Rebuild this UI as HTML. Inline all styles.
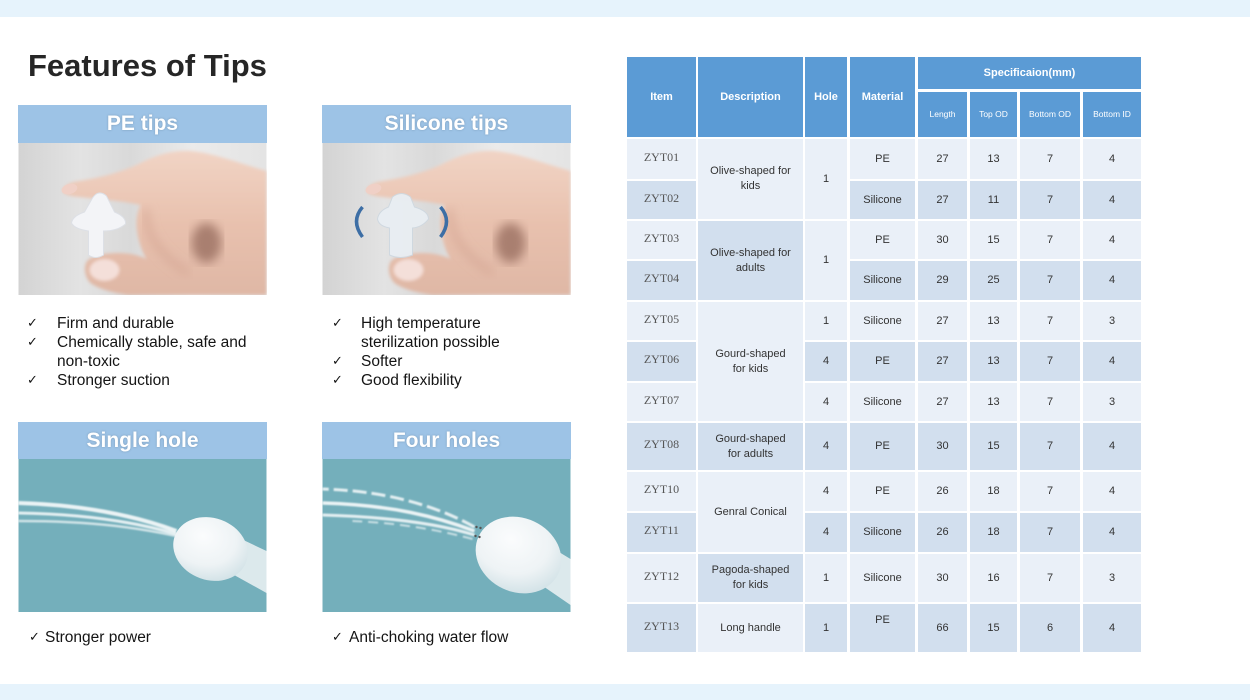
<!DOCTYPE html>
<html><head><meta charset="utf-8">
<style>
html,body{margin:0;padding:0;}
body{width:1250px;height:700px;position:relative;background:#fff;overflow:hidden;font-family:"Liberation Sans",Arial,sans-serif;}
.abs{position:absolute;}
.band{position:absolute;left:0;width:1250px;background:#e6f3fc;}
.title{position:absolute;left:28px;top:46px;font:bold 31px/40px "Liberation Sans",Arial,sans-serif;color:#262626;white-space:nowrap;}
.ph{position:absolute;height:38px;background:#9dc3e6;color:#fff;font:bold 21px/38px "Liberation Sans",Arial,sans-serif;text-align:center;text-shadow:0 0 2px rgba(60,80,100,.35);}
.bl{position:absolute;font:15.5px/19px "Liberation Sans",Arial,sans-serif;color:#141414;white-space:nowrap;}
.ck{position:absolute;font:13px/19px "DejaVu Sans",sans-serif;color:#141414;}
.c{position:absolute;display:flex;align-items:center;justify-content:center;text-align:center;font:11px/15px "Liberation Sans",Arial,sans-serif;color:#333;box-sizing:border-box;}
.h{background:#5b9bd5;color:#fff;font-weight:bold;}
.s{background:#5b9bd5;color:#fff;font-size:8.5px;}
.L{background:#eaf0f8;}
.D{background:#d2dfee;}
.it{font:12px/15px "Liberation Serif",serif;color:#555;padding-bottom:4px;}
</style></head><body>
<div class="band" style="top:0;height:17px;"></div>
<div class="band" style="top:684px;height:16px;"></div>

<div class="title">Features of Tips</div>

<!-- PE tips -->
<div class="ph" style="left:18px;top:105px;width:249px;">PE tips</div>
<svg class="abs" style="left:18px;top:143px" width="249" height="152" viewBox="0 0 248 152">
<defs>
<linearGradient id="bg1" x1="0" x2="1" y1="0" y2="0">
<stop offset="0" stop-color="#d3d3d3"/><stop offset="0.25" stop-color="#e3e3e3"/><stop offset="0.45" stop-color="#d9d9d9"/><stop offset="0.7" stop-color="#ebebeb"/><stop offset="1" stop-color="#e4e4e4"/>
</linearGradient>
<linearGradient id="sk" x1="0" x2="0" y1="0" y2="1">
<stop offset="0" stop-color="#f1d4c5"/><stop offset="0.5" stop-color="#e8c1ae"/><stop offset="1" stop-color="#dfb7a5"/>
</linearGradient>
<filter id="b2"><feGaussianBlur stdDeviation="1.5"/></filter>
<filter id="b5"><feGaussianBlur stdDeviation="5"/></filter>
</defs>
<rect width="248" height="152" fill="url(#bg1)"/>
<path d="M44,47 C46,42 52,39 60,38 C80,35 100,30 118,22 C135,13 152,7 172,8 C195,10 220,20 248,28 L248,152 L110,152 C95,150 80,146 72,140 C66,134 65,124 68,119 C72,113 85,110 100,110 C112,110 122,113 128,116 C122,106 118,92 118,80 C118,72 120,66 122,62 C105,58 80,56 60,54 C50,53 44,51 44,47 Z" fill="url(#sk)" filter="url(#b2)"/>
<ellipse cx="188" cy="100" rx="15" ry="20" fill="#a97f70" filter="url(#b5)"/>
<path d="M128,66 C126,90 140,112 170,130" stroke="#d2a290" stroke-width="4" fill="none" filter="url(#b5)"/>
<ellipse cx="51" cy="46" rx="8" ry="5" fill="#f0d0c6" transform="rotate(-15 51 46)"/>
<ellipse cx="86" cy="127" rx="15" ry="11" fill="#f4dfd9" filter="url(#b2)"/>
<path d="M74,55 Q80,46 88,53 L96,69 Q108,74 107,81 Q99,88 85,88 L85,112 Q77,117 70,112 L70,88 Q56,86 53,80 Q54,73 66,69 Z" fill="#f3f4f7" stroke="#dde0e6" stroke-width="1"/>
</svg>
<div class="ck" style="left:27px;top:314px;">✓</div>
<div class="ck" style="left:27px;top:333px;">✓</div>
<div class="ck" style="left:27px;top:371px;">✓</div>
<div class="bl" style="left:57px;top:314px;">Firm and durable</div>
<div class="bl" style="left:57px;top:333px;">Chemically stable, safe and</div>
<div class="bl" style="left:57px;top:352px;">non-toxic</div>
<div class="bl" style="left:57px;top:371px;">Stronger suction</div>

<!-- Silicone tips -->
<div class="ph" style="left:322px;top:105px;width:249px;">Silicone tips</div>
<svg class="abs" style="left:322px;top:143px" width="249" height="152" viewBox="0 0 248 152">
<rect width="248" height="152" fill="url(#bg1)"/>
<path d="M44,47 C46,42 52,39 60,38 C80,35 100,30 118,22 C135,13 152,7 172,8 C195,10 220,20 248,28 L248,152 L110,152 C95,150 80,146 72,140 C66,134 65,124 68,119 C72,113 85,110 100,110 C112,110 122,113 128,116 C122,106 118,92 118,80 C118,72 120,66 122,62 C105,58 80,56 60,54 C50,53 44,51 44,47 Z" fill="url(#sk)" filter="url(#b2)"/>
<ellipse cx="188" cy="100" rx="15" ry="20" fill="#a97f70" filter="url(#b5)"/>
<path d="M128,66 C126,90 140,112 170,130" stroke="#d2a290" stroke-width="4" fill="none" filter="url(#b5)"/>
<ellipse cx="51" cy="46" rx="8" ry="5" fill="#f0d0c6" transform="rotate(-15 51 46)"/>
<ellipse cx="86" cy="127" rx="15" ry="11" fill="#f4dfd9" filter="url(#b2)"/>
<path d="M70,54 Q79,47 88,54 L92,64 Q106,68 106,76 Q100,84 90,85 L90,112 Q78,117 67,112 L67,85 Q56,83 55,76 Q56,68 66,64 Z" fill="#e9eef3" stroke="#cfd8e0" stroke-width="1" opacity="0.95"/>
<path d="M40,64 Q28,78 40,94" stroke="#3d6ea5" stroke-width="3.5" fill="none"/>
<path d="M118,64 Q130,78 118,94" stroke="#3d6ea5" stroke-width="3.5" fill="none"/>
</svg>
<div class="ck" style="left:332px;top:314px;">✓</div>
<div class="ck" style="left:332px;top:352px;">✓</div>
<div class="ck" style="left:332px;top:371px;">✓</div>
<div class="bl" style="left:361px;top:314px;">High temperature</div>
<div class="bl" style="left:361px;top:333px;">sterilization possible</div>
<div class="bl" style="left:361px;top:352px;">Softer</div>
<div class="bl" style="left:361px;top:371px;">Good flexibility</div>

<!-- Single hole -->
<div class="ph" style="left:18px;top:422px;width:249px;height:37px;line-height:37px;">Single hole</div>
<svg class="abs" style="left:18px;top:459px" width="249" height="153" viewBox="0 0 248 153">
<defs>
<radialGradient id="bulb" cx="0.35" cy="0.35" r="0.75">
<stop offset="0" stop-color="#fbfcfd"/><stop offset="0.6" stop-color="#eef3f5"/><stop offset="1" stop-color="#cfe0e5"/>
</radialGradient>
<filter id="b1"><feGaussianBlur stdDeviation="0.9"/></filter>
</defs>
<rect width="248" height="153" fill="#74afbb"/>
<g fill="none" stroke="#fff" filter="url(#b1)">
<path d="M158,72 C120,58 70,46 0,44" stroke-width="4" opacity=".85"/>
<path d="M158,75 C120,64 70,55 0,54" stroke-width="3" opacity=".8"/>
<path d="M158,77 C125,70 80,62 0,62" stroke-width="2.5" opacity=".65"/>
</g>
<path d="M210,74 L248,92 L248,134 L212,114 Z" fill="#dce9ec"/>
<ellipse cx="192" cy="90" rx="38" ry="31" transform="rotate(20 192 90)" fill="url(#bulb)"/>
</svg>
<div class="ck" style="left:29px;top:628px;">✓</div>
<div class="bl" style="left:45px;top:628px;">Stronger power</div>

<!-- Four holes -->
<div class="ph" style="left:322px;top:422px;width:249px;height:37px;line-height:37px;">Four holes</div>
<svg class="abs" style="left:322px;top:459px" width="249" height="153" viewBox="0 0 248 153">
<rect width="248" height="153" fill="#74afbb"/>
<g fill="none" stroke="#fff" filter="url(#b1)">
<path d="M152,68 C120,50 70,32 0,30" stroke-width="3" opacity=".8" stroke-dasharray="14 5"/>
<path d="M152,72 C115,58 70,46 0,44" stroke-width="3.5" opacity=".85"/>
<path d="M152,76 C120,66 70,58 0,56" stroke-width="3" opacity=".8"/>
<path d="M150,80 C120,72 80,64 30,62" stroke-width="2" opacity=".6" stroke-dasharray="10 6"/>
</g>
<path d="M215,80 L248,100 L248,146 L216,124 Z" fill="#dce9ec"/>
<ellipse cx="196" cy="96" rx="44" ry="37" transform="rotate(25 196 96)" fill="url(#bulb)"/>
<circle cx="154" cy="68" r="1.2" fill="#555"/><circle cx="158" cy="69" r="1.2" fill="#555"/>
<circle cx="153" cy="77" r="1.2" fill="#555"/><circle cx="157" cy="78" r="1.2" fill="#555"/>
</svg>
<div class="ck" style="left:332px;top:628px;">✓</div>
<div class="bl" style="left:349px;top:628px;">Anti-choking water flow</div>

<!-- Table header -->
<div class="c h" style="left:627px;top:57px;width:69px;height:80px;">Item</div>
<div class="c h" style="left:698px;top:57px;width:105px;height:80px;">Description</div>
<div class="c h" style="left:805px;top:57px;width:42px;height:80px;">Hole</div>
<div class="c h" style="left:850px;top:57px;width:65px;height:80px;">Material</div>
<div class="c h" style="left:918px;top:57px;width:223px;height:32px;">Specificaion(mm)</div>
<div class="c s" style="left:918px;top:92px;width:49px;height:45px;">Length</div>
<div class="c s" style="left:970px;top:92px;width:47px;height:45px;">Top OD</div>
<div class="c s" style="left:1020px;top:92px;width:60px;height:45px;">Bottom OD</div>
<div class="c s" style="left:1083px;top:92px;width:58px;height:45px;">Bottom ID</div>

<!-- Row 1 -->
<div class="c L it" style="left:627px;top:139px;width:69px;height:40px;">ZYT01</div>
<div class="c L" style="left:698px;top:139px;width:105px;height:80px;">Olive-shaped for<br>kids</div>
<div class="c L" style="left:805px;top:139px;width:42px;height:80px;">1</div>
<div class="c L" style="left:850px;top:139px;width:65px;height:40px;">PE</div>
<div class="c L" style="left:918px;top:139px;width:49px;height:40px;">27</div>
<div class="c L" style="left:970px;top:139px;width:47px;height:40px;">13</div>
<div class="c L" style="left:1020px;top:139px;width:60px;height:40px;">7</div>
<div class="c L" style="left:1083px;top:139px;width:58px;height:40px;">4</div>
<!-- Row 2 -->
<div class="c D it" style="left:627px;top:181px;width:69px;height:38px;">ZYT02</div>
<div class="c D" style="left:850px;top:181px;width:65px;height:38px;">Silicone</div>
<div class="c D" style="left:918px;top:181px;width:49px;height:38px;">27</div>
<div class="c D" style="left:970px;top:181px;width:47px;height:38px;">11</div>
<div class="c D" style="left:1020px;top:181px;width:60px;height:38px;">7</div>
<div class="c D" style="left:1083px;top:181px;width:58px;height:38px;">4</div>
<!-- Row 3 -->
<div class="c L it" style="left:627px;top:221px;width:69px;height:38px;">ZYT03</div>
<div class="c D" style="left:698px;top:221px;width:105px;height:79px;">Olive-shaped for<br>adults</div>
<div class="c L" style="left:805px;top:221px;width:42px;height:79px;">1</div>
<div class="c L" style="left:850px;top:221px;width:65px;height:38px;">PE</div>
<div class="c L" style="left:918px;top:221px;width:49px;height:38px;">30</div>
<div class="c L" style="left:970px;top:221px;width:47px;height:38px;">15</div>
<div class="c L" style="left:1020px;top:221px;width:60px;height:38px;">7</div>
<div class="c L" style="left:1083px;top:221px;width:58px;height:38px;">4</div>
<!-- Row 4 -->
<div class="c D it" style="left:627px;top:261px;width:69px;height:39px;">ZYT04</div>
<div class="c D" style="left:850px;top:261px;width:65px;height:39px;">Silicone</div>
<div class="c D" style="left:918px;top:261px;width:49px;height:39px;">29</div>
<div class="c D" style="left:970px;top:261px;width:47px;height:39px;">25</div>
<div class="c D" style="left:1020px;top:261px;width:60px;height:39px;">7</div>
<div class="c D" style="left:1083px;top:261px;width:58px;height:39px;">4</div>
<!-- Row 5 -->
<div class="c L it" style="left:627px;top:302px;width:69px;height:38px;">ZYT05</div>
<div class="c L" style="left:698px;top:302px;width:105px;height:119px;">Gourd-shaped<br>for kids</div>
<div class="c L" style="left:805px;top:302px;width:42px;height:38px;">1</div>
<div class="c L" style="left:850px;top:302px;width:65px;height:38px;">Silicone</div>
<div class="c L" style="left:918px;top:302px;width:49px;height:38px;">27</div>
<div class="c L" style="left:970px;top:302px;width:47px;height:38px;">13</div>
<div class="c L" style="left:1020px;top:302px;width:60px;height:38px;">7</div>
<div class="c L" style="left:1083px;top:302px;width:58px;height:38px;">3</div>
<!-- Row 6 -->
<div class="c D it" style="left:627px;top:342px;width:69px;height:39px;">ZYT06</div>
<div class="c D" style="left:805px;top:342px;width:42px;height:39px;">4</div>
<div class="c D" style="left:850px;top:342px;width:65px;height:39px;">PE</div>
<div class="c D" style="left:918px;top:342px;width:49px;height:39px;">27</div>
<div class="c D" style="left:970px;top:342px;width:47px;height:39px;">13</div>
<div class="c D" style="left:1020px;top:342px;width:60px;height:39px;">7</div>
<div class="c D" style="left:1083px;top:342px;width:58px;height:39px;">4</div>
<!-- Row 7 -->
<div class="c L it" style="left:627px;top:383px;width:69px;height:38px;">ZYT07</div>
<div class="c L" style="left:805px;top:383px;width:42px;height:38px;">4</div>
<div class="c L" style="left:850px;top:383px;width:65px;height:38px;">Silicone</div>
<div class="c L" style="left:918px;top:383px;width:49px;height:38px;">27</div>
<div class="c L" style="left:970px;top:383px;width:47px;height:38px;">13</div>
<div class="c L" style="left:1020px;top:383px;width:60px;height:38px;">7</div>
<div class="c L" style="left:1083px;top:383px;width:58px;height:38px;">3</div>
<!-- Row 8 -->
<div class="c D it" style="left:627px;top:423px;width:69px;height:47px;">ZYT08</div>
<div class="c D" style="left:698px;top:423px;width:105px;height:47px;">Gourd-shaped<br>for adults</div>
<div class="c D" style="left:805px;top:423px;width:42px;height:47px;">4</div>
<div class="c D" style="left:850px;top:423px;width:65px;height:47px;">PE</div>
<div class="c D" style="left:918px;top:423px;width:49px;height:47px;">30</div>
<div class="c D" style="left:970px;top:423px;width:47px;height:47px;">15</div>
<div class="c D" style="left:1020px;top:423px;width:60px;height:47px;">7</div>
<div class="c D" style="left:1083px;top:423px;width:58px;height:47px;">4</div>
<!-- Row 9 -->
<div class="c L it" style="left:627px;top:472px;width:69px;height:39px;">ZYT10</div>
<div class="c L" style="left:698px;top:472px;width:105px;height:80px;">Genral Conical</div>
<div class="c L" style="left:805px;top:472px;width:42px;height:39px;">4</div>
<div class="c L" style="left:850px;top:472px;width:65px;height:39px;">PE</div>
<div class="c L" style="left:918px;top:472px;width:49px;height:39px;">26</div>
<div class="c L" style="left:970px;top:472px;width:47px;height:39px;">18</div>
<div class="c L" style="left:1020px;top:472px;width:60px;height:39px;">7</div>
<div class="c L" style="left:1083px;top:472px;width:58px;height:39px;">4</div>
<!-- Row 10 -->
<div class="c D it" style="left:627px;top:513px;width:69px;height:39px;">ZYT11</div>
<div class="c D" style="left:805px;top:513px;width:42px;height:39px;">4</div>
<div class="c D" style="left:850px;top:513px;width:65px;height:39px;">Silicone</div>
<div class="c D" style="left:918px;top:513px;width:49px;height:39px;">26</div>
<div class="c D" style="left:970px;top:513px;width:47px;height:39px;">18</div>
<div class="c D" style="left:1020px;top:513px;width:60px;height:39px;">7</div>
<div class="c D" style="left:1083px;top:513px;width:58px;height:39px;">4</div>
<!-- Row 11 -->
<div class="c L it" style="left:627px;top:554px;width:69px;height:48px;">ZYT12</div>
<div class="c D" style="left:698px;top:554px;width:105px;height:48px;">Pagoda-shaped<br>for kids</div>
<div class="c L" style="left:805px;top:554px;width:42px;height:48px;">1</div>
<div class="c L" style="left:850px;top:554px;width:65px;height:48px;">Silicone</div>
<div class="c L" style="left:918px;top:554px;width:49px;height:48px;">30</div>
<div class="c L" style="left:970px;top:554px;width:47px;height:48px;">16</div>
<div class="c L" style="left:1020px;top:554px;width:60px;height:48px;">7</div>
<div class="c L" style="left:1083px;top:554px;width:58px;height:48px;">3</div>
<!-- Row 12 -->
<div class="c D it" style="left:627px;top:604px;width:69px;height:48px;">ZYT13</div>
<div class="c L" style="left:698px;top:604px;width:105px;height:48px;">Long handle</div>
<div class="c D" style="left:805px;top:604px;width:42px;height:48px;">1</div>
<div class="c D" style="left:850px;top:604px;width:65px;height:48px;padding-bottom:16px;">PE</div>
<div class="c D" style="left:918px;top:604px;width:49px;height:48px;">66</div>
<div class="c D" style="left:970px;top:604px;width:47px;height:48px;">15</div>
<div class="c D" style="left:1020px;top:604px;width:60px;height:48px;">6</div>
<div class="c D" style="left:1083px;top:604px;width:58px;height:48px;">4</div>
</body></html>
